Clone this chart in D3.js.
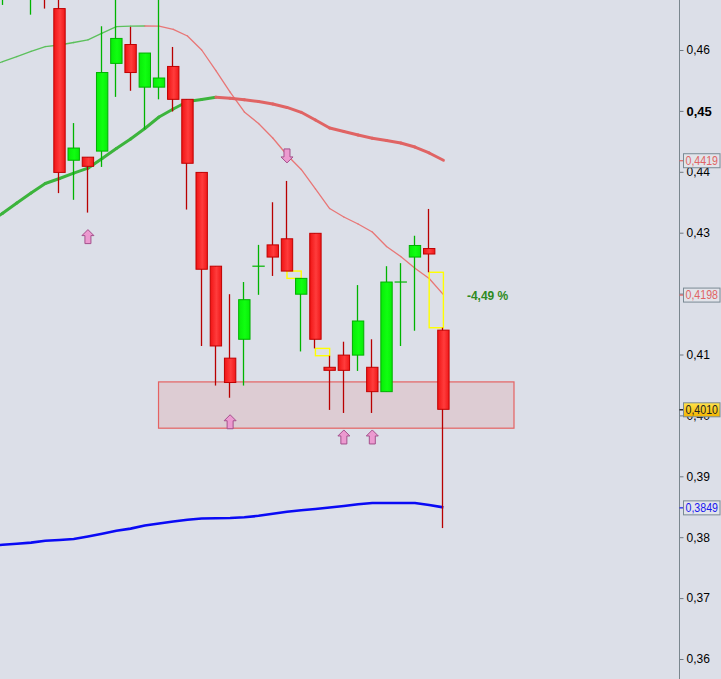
<!DOCTYPE html>
<html>
<head>
<meta charset="utf-8">
<script src="https://cdn.jsdelivr.net/npm/d3@7"></script>
<style>
  html, body { margin: 0; padding: 0; background: #dcdfe8; }
  svg { display: block; }
  text { font-family: "Liberation Sans", Arial, sans-serif; }
</style>
</head>
<body>
<svg id="chart" width="721" height="679"></svg>
<script>
// ---- price data (one entry per session) ----
const opens  = [0.4740, 0.4705, 0.4745, 0.4710, 0.4760, 0.4668, 0.4419, 0.4424, 0.4434, 0.4578,
                0.4609, 0.4539, 0.4539, 0.4573, 0.4519, 0.4399, 0.4245, 0.4094, 0.4125, 0.4245,
                0.4280, 0.4290, 0.4199, 0.4299, 0.4079, 0.4099, 0.4099, 0.4079, 0.4039, 0.4219,
                0.4260, 0.4274, 0.4140];
const highs  = [0.4780, 0.4780, 0.4800, 0.4790, 0.4780, 0.4700, 0.4480, 0.4424, 0.4639, 0.4700,
                0.4638, 0.4595, 0.4700, 0.4605, 0.4519, 0.4399, 0.4245, 0.4199, 0.4219, 0.4280,
                0.4350, 0.4385, 0.4225, 0.4299, 0.4098, 0.4121, 0.4214, 0.4125, 0.4245, 0.4250,
                0.4295, 0.4339, 0.4144];
const lows   = [0.4700, 0.4674, 0.4695, 0.4658, 0.4668, 0.4365, 0.4354, 0.4333, 0.4408, 0.4523,
                0.4533, 0.4470, 0.4519, 0.4499, 0.4338, 0.4114, 0.4049, 0.4029, 0.4049, 0.4198,
                0.4229, 0.4237, 0.4105, 0.4110, 0.4009, 0.4004, 0.4073, 0.4004, 0.4039, 0.4114,
                0.4139, 0.4235, 0.3815];
const closes = [0.4720, 0.4745, 0.4780, 0.4760, 0.4705, 0.4399, 0.4439, 0.4409, 0.4563, 0.4619,
                0.4563, 0.4595, 0.4554, 0.4519, 0.4414, 0.4240, 0.4114, 0.4054, 0.4190, 0.4245,
                0.4260, 0.4237, 0.4225, 0.4125, 0.4074, 0.4074, 0.4155, 0.4039, 0.4219, 0.4219,
                0.4279, 0.4265, 0.4010];

// ---- moving averages ----
const maShort = [0.45721, 0.45808, 0.45893, 0.45979, 0.46057, 0.46082, 0.46123, 0.46167, 0.46276, 0.46383,
                 0.46391, 0.46394, 0.46391, 0.46340, 0.46230, 0.46000, 0.45663, 0.45310, 0.44982, 0.44793,
                 0.44555, 0.44276, 0.44038, 0.43718, 0.43397, 0.43258, 0.43143, 0.43011, 0.42773, 0.42609,
                 0.42415, 0.42248, 0.41984];
const maLong  = [0.43159, 0.43320, 0.43488, 0.43652, 0.43808, 0.43890, 0.43977, 0.44059, 0.44218, 0.44383,
                 0.44539, 0.44711, 0.44900, 0.45031, 0.45154, 0.45187, 0.45223, 0.45207, 0.45182, 0.45154,
                 0.45113, 0.45057, 0.44977, 0.44851, 0.44719, 0.44662, 0.44604, 0.44552, 0.44514, 0.44473,
                 0.44407, 0.44309, 0.44190];
const maTrend = [0.37860, 0.37875, 0.37892, 0.37911, 0.37941, 0.37954, 0.37970, 0.38011, 0.38057, 0.38107,
                 0.38141, 0.38192, 0.38225, 0.38258, 0.38287, 0.38307, 0.38312, 0.38315, 0.38328, 0.38351,
                 0.38384, 0.38417, 0.38442, 0.38463, 0.38488, 0.38512, 0.38540, 0.38562, 0.38562, 0.38562,
                 0.38562, 0.38529, 0.38490];

// ---- signals, support zone, ticks ----
const signalsUp   = [7, 17, 25, 27];
const signalsDown = [21];
const zoneSpan    = [12, 37];          // session index range
const zoneLevels  = [0.4055, 0.3979];  // top, bottom
const yTicks = [0.36, 0.37, 0.38, 0.39, 0.40, 0.41, 0.42, 0.43, 0.44, 0.45, 0.46];
const majorTick = 0.45;

// ---- layout ----
const W = 721, H = 679, axisX = 679.5;
const n = closes.length;
const x = d3.scaleLinear().domain([0, n - 1]).range([-11.6, 443.4]);
const step = x(1) - x(0);
const bw = step * 0.87;
const y = d3.scaleLinear().domain([0.36, 0.46]).range([659, 50]);

const GREEN = "#00b400", RED = "#b80000";
const svg = d3.select("#chart");
svg.append("rect").attr("width", W).attr("height", H).attr("fill", "#dcdfe8");

const defs = svg.append("defs");
defs.append("clipPath").attr("id", "plotClip")
  .append("rect").attr("x", 0).attr("y", 0).attr("width", axisX).attr("height", H);
const gradR = defs.append("linearGradient").attr("id", "redBody");
gradR.append("stop").attr("offset", "0%").attr("stop-color", "#f01414");
gradR.append("stop").attr("offset", "55%").attr("stop-color", "#ff3c3c");
gradR.append("stop").attr("offset", "100%").attr("stop-color", "#f01818");
const gradG = defs.append("linearGradient").attr("id", "greenBody");
gradG.append("stop").attr("offset", "0%").attr("stop-color", "#08ec08");
gradG.append("stop").attr("offset", "55%").attr("stop-color", "#10ff10");
gradG.append("stop").attr("offset", "100%").attr("stop-color", "#08ec08");
const gradGold = defs.append("linearGradient").attr("id", "goldLabel")
  .attr("x1", 0).attr("y1", 0).attr("x2", 0).attr("y2", 1);
gradGold.append("stop").attr("offset", "0%").attr("stop-color", "#ffe24a");
gradGold.append("stop").attr("offset", "100%").attr("stop-color", "#f2b400");

const plot = svg.append("g").attr("clip-path", "url(#plotClip)");

// support zone
plot.append("rect")
  .attr("x", x(zoneSpan[0]) - 0.5).attr("y", y(zoneLevels[0]))
  .attr("width", x(zoneSpan[1]) - x(zoneSpan[0]))
  .attr("height", y(zoneLevels[1]) - y(zoneLevels[0]))
  .attr("fill", "#e08080").attr("fill-opacity", 0.2)
  .attr("stroke", "#e46262").attr("stroke-width", 1.2);

// moving averages, coloured by direction of each segment
function trendLine(values, width, upColor, downColor) {
  const g = plot.append("g");
  const segs = d3.range(values.length - 1).map(i => [i, i + 1]);
  const line = d3.line().x(i => x(i)).y(i => y(values[i]));
  g.selectAll("path").data(segs).join("path")
    .attr("d", s => line(s))
    .attr("fill", "none")
    .attr("stroke", s => values[s[1]] >= values[s[0]] ? upColor : downColor)
    .attr("stroke-width", width)
    .attr("stroke-linecap", "round");
}
trendLine(maShort, 1.3, "#5cc05c", "#e87676");
trendLine(maLong, 3, "#3cb43c", "#e06464");
plot.append("path")
  .datum(d3.range(n))
  .attr("d", d3.line().x(i => x(i)).y(i => y(maTrend[i])))
  .attr("fill", "none").attr("stroke", "#0a0af5").attr("stroke-width", 2.6);

// price gaps between consecutive sessions
const gaps = [];
for (let i = 0; i < n - 1; i++) {
  if (highs[i + 1] < lows[i]) gaps.push([i, lows[i], highs[i + 1]]);
  else if (lows[i + 1] > highs[i]) gaps.push([i, lows[i + 1], highs[i]]);
}
plot.append("g").selectAll("rect").data(gaps).join("rect")
  .attr("x", d => x(d[0])).attr("y", d => y(d[1]))
  .attr("width", step).attr("height", d => y(d[2]) - y(d[1]))
  .attr("fill", "none").attr("stroke", "#ffff00").attr("stroke-width", 1.4);

// candles
const candles = plot.append("g").selectAll("g").data(d3.range(n)).join("g");
candles.append("line")
  .attr("x1", i => Math.round(x(i)) - 0.5).attr("x2", i => Math.round(x(i)) - 0.5)
  .attr("y1", i => y(highs[i])).attr("y2", i => y(lows[i]))
  .attr("stroke", i => closes[i] >= opens[i] ? GREEN : RED).attr("stroke-width", 1.3);
candles.filter(i => closes[i] !== opens[i]).append("rect")
  .attr("x", i => x(i) - bw / 2 + 0.5)
  .attr("y", i => y(Math.max(opens[i], closes[i])))
  .attr("width", bw - 1)
  .attr("height", i => Math.abs(y(opens[i]) - y(closes[i])))
  .attr("fill", i => closes[i] > opens[i] ? "url(#greenBody)" : "url(#redBody)")
  .attr("stroke", i => closes[i] > opens[i] ? "#00b000" : "#c00000")
  .attr("stroke-width", 1);
candles.filter(i => closes[i] === opens[i]).append("line")
  .attr("x1", i => x(i) - bw / 2).attr("x2", i => x(i) + bw / 2)
  .attr("y1", i => y(closes[i])).attr("y2", i => y(closes[i]))
  .attr("stroke", GREEN).attr("stroke-width", 1.2);

// signal arrows
const upArrow = "M0,0 L6,6 L3,6 L3,14 L-3,14 L-3,6 L-6,6 Z";
const downArrow = "M0,0 L6,-6 L3,-6 L3,-14 L-3,-14 L-3,-6 L-6,-6 Z";
plot.append("g").selectAll("path").data(signalsUp).join("path")
  .attr("transform", i => `translate(${x(i)},${y(lows[i]) + 17})`)
  .attr("d", upArrow).attr("fill", "#ec9ad0").attr("stroke", "#a4508c").attr("stroke-width", 1);
plot.append("g").selectAll("path").data(signalsDown).join("path")
  .attr("transform", i => `translate(${x(i)},${y(highs[i]) - 18})`)
  .attr("d", downArrow).attr("fill", "#ec9ad0").attr("stroke", "#a4508c").attr("stroke-width", 1);

// distance of the last close from the short average
const last = n - 1;
const pct = (closes[last] - maShort[last]) / maShort[last] * 100;
svg.append("text")
  .attr("x", x(last) + 23.5).attr("y", y(maShort[last]) + 5)
  .attr("fill", "#2e8a22").attr("font-size", 12).attr("font-weight", "bold")
  .text(pct.toFixed(2).replace(".", ",") + " %");

// price axis
const fmt2 = d => d.toFixed(2).replace(".", ",");
const axisG = svg.append("g").attr("transform", `translate(${axisX},0)`)
  .call(d3.axisRight(y).tickValues(yTicks).tickSize(4).tickPadding(3).tickFormat(fmt2));
axisG.select(".domain").remove();
axisG.selectAll(".tick line").attr("stroke", "#6e7880");
axisG.selectAll(".tick text")
  .attr("fill", "#000")
  .attr("font-size", d => Math.abs(d - majorTick) < 1e-9 ? 13 : 12)
  .attr("font-weight", d => Math.abs(d - majorTick) < 1e-9 ? "bold" : "normal")
  .attr("font-family", "'Liberation Sans', Arial, sans-serif");
svg.append("line").attr("x1", axisX).attr("x2", axisX).attr("y1", 0).attr("y2", H)
  .attr("stroke", "#7a868e").attr("stroke-width", 1);

// last-value markers on the axis
const fmt4 = v => v.toFixed(4).replace(".", ",");
const markers = [
  { v: maLong[last],  text: "#e06464", fill: "#e2e4ea", tick: "#e06464" },
  { v: maShort[last], text: "#e06464", fill: "#e2e4ea", tick: "#e06464" },
  { v: closes[last],  text: "#202020", fill: "url(#goldLabel)", tick: "#000" },
  { v: maTrend[last], text: "#1818f0", fill: "#e2e4ea", tick: "#1818f0" }
];
const mk = svg.append("g").selectAll("g").data(markers).join("g")
  .attr("transform", d => `translate(0,${y(d.v)})`);
mk.append("line").attr("x1", axisX).attr("x2", axisX + 4).attr("y1", 0.5).attr("y2", 0.5)
  .attr("stroke", d => d.tick).attr("stroke-width", 1.2);
mk.append("rect").attr("x", 683.5).attr("y", -6.5).attr("width", 36.5).attr("height", 14)
  .attr("fill", d => d.fill).attr("stroke", "#7a8a94").attr("stroke-width", 1);
mk.append("text").attr("x", 685.5).attr("y", 4.6)
  .attr("font-size", 12).attr("fill", d => d.text)
  .attr("textLength", 32.5).attr("lengthAdjust", "spacingAndGlyphs")
  .text(d => fmt4(d.v));
</script>
</body>
</html>
